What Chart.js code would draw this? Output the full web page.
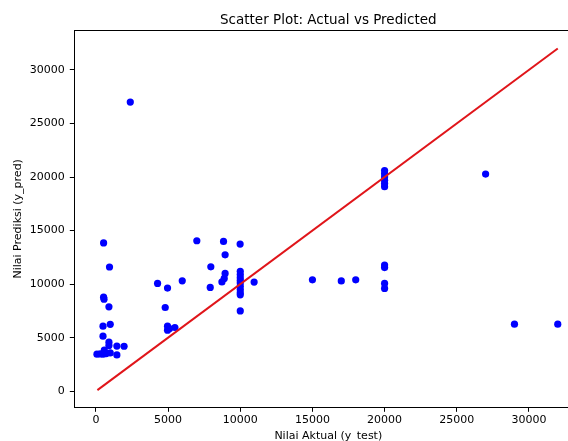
<!DOCTYPE html>
<html>
<head>
<meta charset="utf-8">
<script src="https://cdn.jsdelivr.net/npm/chart.js@4.4.1/dist/chart.umd.min.js"></script>
<style>
  html, body { margin: 0; padding: 0; background: #fff; overflow: hidden; }
  #wrap { position: absolute; left: 0; top: 0; width: 600px; height: 450px; }
</style>
</head>
<body>
<div id="wrap"><canvas id="c" width="600" height="450"></canvas></div>
<script>
// ---- Data ----
const actual = [
  530, 940, 530, 560, 900, 490, 990, 490, 900, 900, 1450, 1950,
  70, 300, 500, 710, 990, 1450, 580,
  4270, 4960, 5980, 4800, 4960, 4960, 5470, 5100,
  6990, 8840, 9990, 8950, 7960, 7920, 8730, 8890, 8950,
  10000, 10000, 10000, 10000, 10000, 10000, 10000, 10000, 10000,
  10000, 10960,
  15000, 17000, 18000,
  20000, 20000, 20000, 20000, 20000, 20000,
  20000, 20000, 20000, 20000,
  27000, 29000, 32000, 2380
];
const predicted = [
  13850, 11600, 8780, 8600, 7880, 6070, 6250, 5140, 4580, 4270, 4220, 4200,
  3460, 3480, 3460, 3520, 3580, 3390, 3830,
  10070, 9630, 10310, 7820, 6070, 5700, 5950, 5850,
  14050, 13990, 13740, 12740, 11620, 9690, 10210, 10530, 11000,
  11200, 10900, 10600, 10350, 10100, 9800, 9500, 9200, 9000,
  7500, 10190,
  10400, 10300, 10400,
  20600, 20300, 20000, 19700, 19400, 19100,
  11780, 11550, 10070, 9600,
  20280, 6260, 6260, 27000
];
const idealLine = [100, 32000];           // y = x reference line (min..max of actual)
const xTicks = [0, 5000, 10000, 15000, 20000, 25000, 30000];
const yTicks = [0, 5000, 10000, 15000, 20000, 25000, 30000];
const chartTitle = 'Scatter Plot: Actual vs Predicted';
const xTitle = 'Nilai Aktual (y_test)';
const yTitle = 'Nilai Prediksi (y_pred)';

// ---- Build chart ----
const points = actual.map((a, i) => ({ x: a, y: predicted[i] }));
const linePts = idealLine.map(v => ({ x: v, y: v }));
const FONT = 'DejaVu Sans';

const frame = {
  id: 'frame',
  afterDatasetsDraw(chart) {
    const { ctx, chartArea: a } = chart;
    ctx.save();
    ctx.strokeStyle = '#000';
    ctx.lineWidth = 1;
    ctx.strokeRect(Math.round(a.left) + 0.5, Math.round(a.top) + 0.5,
                   Math.round(a.right - a.left), Math.round(a.bottom - a.top));
    // title centred over the axes, like matplotlib
    ctx.fillStyle = '#000';
    ctx.font = '13.5px "' + FONT + '"';
    ctx.textAlign = 'center';
    ctx.textBaseline = 'alphabetic';
    ctx.fillText(chartTitle, (a.left + a.right) / 2, 24.3);
    ctx.restore();
  }
};

new Chart(document.getElementById('c'), {
  data: {
    datasets: [
      {
        type: 'line',
        data: linePts,
        borderColor: '#e0151a',
        borderWidth: 2,
        pointRadius: 0,
        fill: false,
        order: 0
      },
      {
        type: 'scatter',
        data: points,
        backgroundColor: '#0000ff',
        borderWidth: 0,
        pointRadius: 3.6,
        order: 1
      }
    ]
  },
  options: {
    responsive: false,
    animation: false,
    devicePixelRatio: 1,
    layout: { padding: { left: 0, right: 17.7, top: 30.3, bottom: 0 } },
    plugins: {
      legend: { display: false },
      tooltip: { enabled: false },
      title: { display: false }
    },
    scales: {
      x: {
        type: 'linear',
        min: -1500,
        max: 33700,
        afterBuildTicks: s => { s.ticks = xTicks.map(v => ({ value: v })); },
        afterFit: s => { s.height = 42.7; },
        border: { display: false },
        grid: { drawOnChartArea: false, drawTicks: true, tickLength: 4.5, tickColor: '#000', color: '#000' },
        ticks: {
          color: '#000',
          font: { family: FONT, size: 11 },
          padding: 2,
          maxRotation: 0,
          autoSkip: false,
          callback: v => String(v)
        },
        title: {
          display: true,
          text: xTitle,
          color: '#000',
          font: { family: FONT, size: 11 },
          padding: { top: 0, bottom: 6.8 }
        }
      },
      y: {
        type: 'linear',
        min: -1500,
        max: 33700,
        afterBuildTicks: s => { s.ticks = yTicks.map(v => ({ value: v })); },
        afterFit: s => { s.width = 74.3; },
        border: { display: false },
        grid: { drawOnChartArea: false, drawTicks: true, tickLength: 4.5, tickColor: '#000', color: '#000' },
        ticks: {
          color: '#000',
          font: { family: FONT, size: 11 },
          padding: 5,
          autoSkip: false,
          callback: v => String(v)
        },
        title: {
          display: true,
          text: yTitle,
          color: '#000',
          font: { family: FONT, size: 11 },
          padding: { top: 11.4, bottom: 0 }
        }
      }
    }
  },
  plugins: [frame]
});
</script>
</body>
</html>
